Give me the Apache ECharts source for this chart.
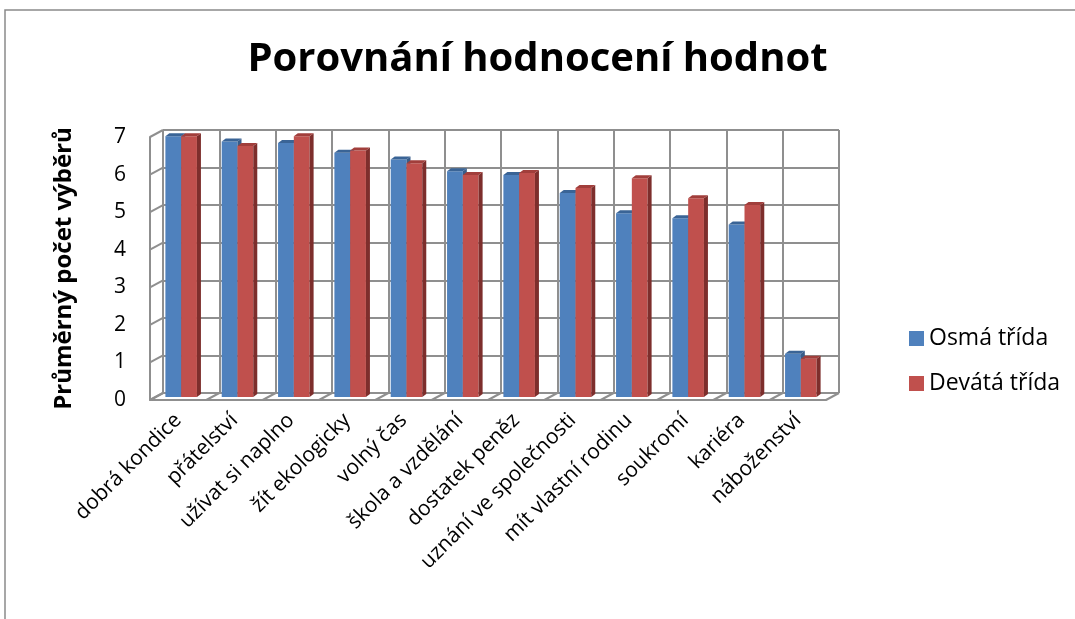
<!DOCTYPE html>
<html>
<head>
<meta charset="utf-8">
<script src="https://cdn.jsdelivr.net/npm/echarts@6/dist/echarts.min.js"></script>
<style>
  html, body { margin: 0; padding: 0; background: #fff; }
  #main { width: 1075px; height: 619px; }
</style>
</head>
<body>
<div id="main"></div>
<script>
// data
var categories = ['dobrá kondice', 'přátelství', 'užívat si naplno', 'žít ekologicky', 'volný čas',
    'škola a vzdělání', 'dostatek peněz', 'uznání ve společnosti', 'mít vlastní rodinu',
    'soukromí', 'kariéra', 'náboženství'];
var osma = [6.94, 6.80, 6.76, 6.50, 6.32, 6.01, 5.91, 5.43, 4.89, 4.76, 4.59, 1.15];
var devata = [6.94, 6.68, 6.94, 6.56, 6.22, 5.91, 5.96, 5.56, 5.82, 5.29, 5.11, 1.02];
var yTicks = [0, 1, 2, 3, 4, 5, 6, 7];

var font = 'Open Sans';
var depth = [13, -7];   // posun zadni steny
var wallColor = '#8f8f8f';

// kvádr pro jeden sloupec
function barItem(side, front, sideCol, topCol) {
    return function (params, api) {
        var i = api.value(0), v = api.value(1);
        var base = api.coord([i, 0]);
        var top = api.coord([i, v]);
        var band = api.size([1, 0])[0];
        var w = band * 0.28;
        var cx = base[0] + 3;
        var x0 = side === 0 ? cx - w : cx;
        var yb = base[1] - 3, yt = top[1] - 3;
        var dx = 4, dy = -3;
        return {
            type: 'group',
            children: [
                { type: 'rect', shape: { x: x0, y: yt, width: w, height: yb - yt }, style: { fill: front } },
                { type: 'polygon', shape: { points: [[x0 + w, yt], [x0 + w + dx, yt + dy], [x0 + w + dx, yb + dy], [x0 + w, yb]] }, style: { fill: sideCol } },
                { type: 'polygon', shape: { points: [[x0, yt], [x0 + dx, yt + dy], [x0 + w + dx, yt + dy], [x0 + w, yt]] }, style: { fill: topCol } }
            ]
        };
    };
}

var myChart = echarts.init(document.getElementById('main'));

var option = {
    backgroundColor: '#fff',
    animation: false,
    title: {
        text: 'Porovnání hodnocení hodnot',
        left: 'center',
        top: 35,
        textStyle: { fontFamily: font, fontSize: 40, fontWeight: 'bold', color: '#000' }
    },
    legend: {
        orient: 'vertical',
        left: 904,
        top: 322,
        itemWidth: 15,
        itemHeight: 15,
        itemGap: 22,
        icon: 'rect',
        textStyle: { fontFamily: font, fontSize: 23, color: '#000' },
        data: ['Osmá třída', 'Devátá třída']
    },
    graphic: [{
        type: 'rect',
        shape: { x: 5, y: 10, width: 1100, height: 700 },
        style: { fill: null, stroke: '#8a8a8a', lineWidth: 1.5 },
        silent: true
    }],
    grid: [
        { left: 150, top: 137, width: 676, height: 263 },
        { left: 150 + depth[0], top: 137 + depth[1], width: 676, height: 263 }
    ],
    xAxis: [{
        type: 'category',
        gridIndex: 0,
        data: categories,
        axisLine: { lineStyle: { color: wallColor, width: 2 } },
        axisTick: { show: false },
        axisLabel: { rotate: 45, margin: 17, fontFamily: font, fontSize: 21, color: '#000', interval: 0 },
        splitLine: { show: false }
    }, {
        type: 'category',
        gridIndex: 1,
        data: categories,
        axisLine: { show: false },
        axisTick: { show: false },
        axisLabel: { show: false },
        splitLine: { show: true, showMinLine: true, showMaxLine: true, interval: 0, lineStyle: { color: wallColor, width: 2 } }
    }],
    yAxis: [{
        type: 'value',
        gridIndex: 0,
        min: 0, max: 7, interval: 1,
        name: 'Průměrný počet výběrů',
        nameLocation: 'middle',
        nameGap: 74,
        nameTextStyle: { fontFamily: font, fontSize: 24, fontWeight: 'bold', color: '#000' },
        axisLine: { show: true, lineStyle: { color: wallColor, width: 2 } },
        axisTick: { show: false },
        axisLabel: { margin: 24, fontFamily: font, fontSize: 21, color: '#000' },
        splitLine: { show: false }
    }, {
        type: 'value',
        gridIndex: 1,
        min: 0, max: 7, interval: 1,
        axisLine: { show: false },
        axisTick: { show: false },
        axisLabel: { show: false },
        splitLine: { show: true, showMinLine: true, showMaxLine: true, lineStyle: { color: wallColor, width: 2 } }
    }],
    series: [{
        // levá stěna
        type: 'custom',
        silent: true,
        xAxisIndex: 0, yAxisIndex: 0,
        data: yTicks.map(function (t) { return [0, t]; }),
        renderItem: function (params, api) {
            var p = api.coord([0, api.value(1)]);
            var band = api.size([1, 0])[0];
            var x = p[0] - band / 2;
            return { type: 'line', shape: { x1: x, y1: p[1], x2: x + depth[0], y2: p[1] + depth[1] }, style: { stroke: wallColor, lineWidth: 2 } };
        }
    }, {
        // podlaha
        type: 'custom',
        silent: true,
        xAxisIndex: 0, yAxisIndex: 0,
        data: categories.concat(['']).map(function (c, k) { return [0, 0, k]; }),
        renderItem: function (params, api) {
            var p = api.coord([0, 0]);
            var band = api.size([1, 0])[0];
            var x = p[0] - band / 2 + api.value(2) * band;
            return { type: 'line', shape: { x1: x, y1: p[1], x2: x + depth[0], y2: p[1] + depth[1] }, style: { stroke: wallColor, lineWidth: 2 } };
        }
    }, {
        name: 'Osmá třída',
        type: 'custom',
        xAxisIndex: 0, yAxisIndex: 0,
        itemStyle: { color: '#4f81bd' },
        data: osma.map(function (v, i) { return [i, v]; }),
        renderItem: barItem(0, '#4f81bd', '#385d8a', '#3a6496')
    }, {
        name: 'Devátá třída',
        type: 'custom',
        xAxisIndex: 0, yAxisIndex: 0,
        itemStyle: { color: '#c0504d' },
        data: devata.map(function (v, i) { return [i, v]; }),
        renderItem: barItem(1, '#c0504d', '#7d2e2c', '#a13e3b')
    }]
};
myChart.setOption(option);
</script>
</body>
</html>
